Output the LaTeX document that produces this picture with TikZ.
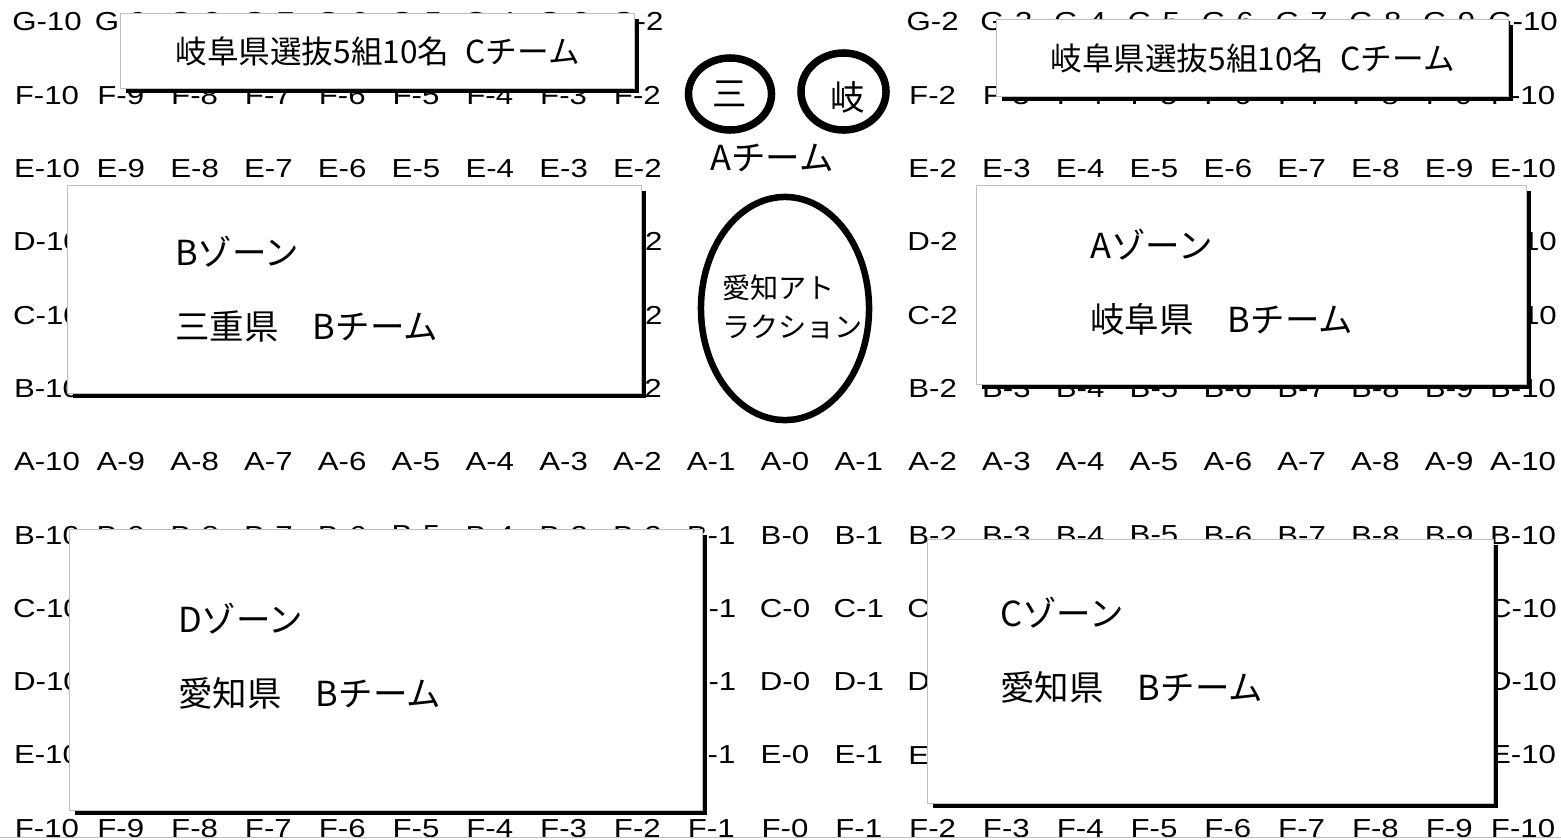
\documentclass[tikz,border=0pt]{standalone}
\usepackage{fontspec}
\newfontfamily\seatfont[FakeStretch=1.2]{Liberation Sans}
\newfontfamily\jpfont{Noto Sans CJK JP}
\usetikzlibrary{positioning, shapes.geometric, shadows}

\tikzset{
  seat/.style={font=\seatfont\fontsize{7.4}{8}\selectfont, inner sep=0pt},
  zone/.style={rectangle, draw=gray!50, line width=0.1mm, fill=white,
    drop shadow={shadow xshift=0.47mm, shadow yshift=-0.47mm, fill=black, opacity=1}},
  zonetext/.style={font=\jpfont\fontsize{9.8}{21}\selectfont, align=left, inner sep=0pt},
  seal/.style={ellipse, draw, line width=0.75mm, inner sep=0pt},
  sealtext/.style={font=\jpfont\fontsize{9.8}{12}\selectfont, inner sep=0pt}
}

\begin{document}
\begin{tikzpicture}[x=0.01cm, y=-0.01cm]
  \useasboundingbox (0,0) rectangle (1561,839);

  % --- Seats ---
  \foreach \r [count=\j from 0] in {G,F,E,D,C,B,A,B,C,D,E,F} {
    \foreach \i in {0,...,20} {
      \pgfmathtruncatemacro\num{abs(10-\i)}
      \pgfmathtruncatemacro\noseat{(\j<6)&&(\i>8)&&(\i<12)}
      \ifnum\noseat=0
        \node[seat] (seat-\j-\i) at ({47+73.8*\i},{22+73.3*\j}) {\r-\num};
      \fi
    }
  }

  % --- C teams ---
  \node[zone, minimum width=5.13cm, minimum height=0.74cm, font=\jpfont\fontsize{9}{11}\selectfont] (cteamL) at (377.5,51) {岐阜県選抜5組10名\enspace Cチーム};
  \node[zone, minimum width=5.11cm, minimum height=0.76cm, font=\jpfont\fontsize{9}{11}\selectfont] (cteamR) at (1252.5,58) {岐阜県選抜5組10名\enspace Cチーム};

  % --- Zones ---
  % B zone
  \node[zone, minimum width=5.73cm, minimum height=2.07cm] (bzone) at (354.5,289.5) {};
  \node[zonetext, right=1.07cm of bzone.west] (btext) {Bゾーン\\三重県\quad Bチーム};

  % A zone
  \node[zone, minimum width=5.49cm, minimum height=1.98cm] (azone) at (1251.5,285) {};
  \node[zonetext, right=1.13cm of azone.west, yshift=0.25mm] (atext) {Aゾーン\\岐阜県\quad Bチーム};

  % D zone
  \node[zone, minimum width=6.32cm, minimum height=2.80cm] (dzone) at (386,670) {};
  \node[zonetext, right=1.08cm of dzone.west, yshift=1.4mm] (dtext) {Dゾーン\\愛知県\quad Bチーム};

  % C zone
  \node[zone, minimum width=5.65cm, minimum height=2.63cm] (czone) at (1210.5,671.5) {};
  \node[zonetext, right=0.72cm of czone.west, yshift=2.15mm] (ctext) {Cゾーン\\愛知県\quad Bチーム};

  % --- A team and attraction ---
  \node[seal, sealtext, minimum width=0.83cm, minimum height=0.72cm] (mie) at (730,94) {三};
  \node[seal, minimum width=0.85cm, minimum height=0.77cm] (gifu) at (843.5,91.5) {};
  \node[sealtext] (gifutext) at (848,97) {岐};
  \node[sealtext] (ateam) at (772,158) {Aチーム};

  \node[seal, line width=0.65mm, minimum width=1.68cm, minimum height=2.23cm] (aichi) at (785,308.5) {};
  \node[font=\jpfont\fontsize{8}{11.1}\selectfont, align=left, inner sep=0pt] (aichitext) at (792.5,306.5) {愛知アト\\ラクション};

  % bottom edge
  \draw[gray!50, line width=0.1mm] (0,837) -- (1561,837);
\end{tikzpicture}
\end{document}
